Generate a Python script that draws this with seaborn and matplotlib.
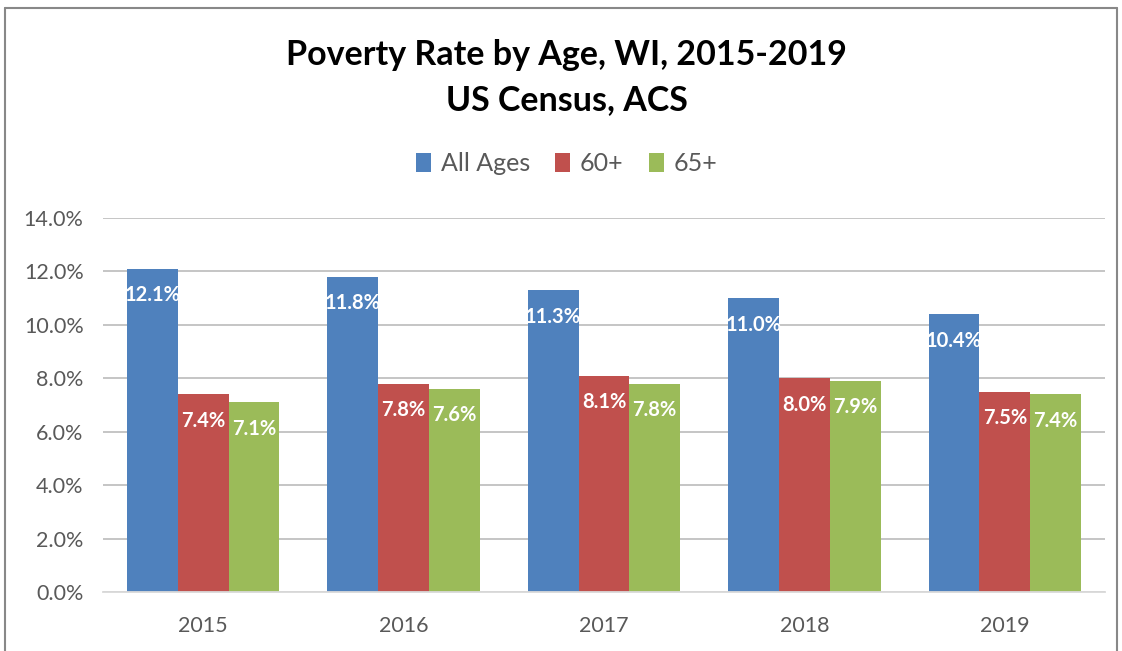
import matplotlib
matplotlib.use("Agg")
import matplotlib.pyplot as plt
from matplotlib.lines import Line2D
from matplotlib.ticker import FuncFormatter
import numpy as np
import pandas as pd
import seaborn as sns

# values (percent)
years = ["2015", "2016", "2017", "2018", "2019"]
groups = ["All Ages", "60+", "65+"]
all_ages = [12.1, 11.8, 11.3, 11.0, 10.4]
age_60 = [7.4, 7.8, 8.1, 8.0, 7.5]
age_65 = [7.1, 7.6, 7.8, 7.9, 7.4]
colors = ["#4F81BD", "#C0504D", "#9BBB59"]

df = pd.DataFrame({
    "year": years * 3,
    "group": [groups[0]] * 5 + [groups[1]] * 5 + [groups[2]] * 5,
    "rate": all_ages + age_60 + age_65,
})

sns.set_style("white")
plt.rcParams["font.family"] = ["Lato", "DejaVu Sans"]

fig = plt.figure(figsize=(11.22, 6.51), dpi=100)
ax = fig.add_axes([0.0918, 0.0906, 0.893, 0.5745])

sns.barplot(data=df, x="year", y="rate", hue="group", hue_order=groups,
            palette=colors, width=0.76, linewidth=0, saturation=1,
            errorbar=None, ax=ax)

ax.set_ylim(0, 14)
ax.set_xlim(-0.5, 4.5)
ax.set_yticks(np.arange(0, 14.1, 2))
ax.yaxis.set_major_formatter(FuncFormatter(lambda v, p: f"{v:.1f}%"))
ax.grid(axis="y", color="#C0C0C0", linewidth=1.3)
ax.set_axisbelow(True)
for s in ["top", "right", "left"]:
    ax.spines[s].set_visible(False)
ax.spines["bottom"].set_color("#D9D9D9")
ax.spines["bottom"].set_linewidth(1.3)
ax.tick_params(axis="both", length=0, labelsize=15.5, labelcolor="#595959")
ax.tick_params(axis="x", pad=17)
ax.tick_params(axis="y", pad=14)
ax.set_xlabel("")
ax.set_ylabel("")

# value labels inside the top of each bar
for cont in ax.containers:
    for p in cont:
        h = p.get_height()
        ax.annotate(f"{h:.1f}%", (p.get_x() + p.get_width() / 2, h),
                    xytext=(0, -19), textcoords="offset points",
                    ha="center", va="center", color="white",
                    fontsize=14.5, fontweight="bold")

handles, labels = ax.get_legend_handles_labels()
ax.legend_.remove()
fig.legend(handles, labels, loc="center", bbox_to_anchor=(0.505, 0.749),
           ncol=3, frameon=False, fontsize=18, handlelength=0.6,
           handleheight=0.8, handletextpad=0.4, columnspacing=1.0,
           labelcolor="#595959")

fig.text(0.505, 0.915, "Poverty Rate by Age, WI, 2015-2019", ha="center",
         va="center", fontsize=24.5, fontweight="bold", color="black")
fig.text(0.505, 0.846, "US Census, ACS", ha="center", va="center",
         fontsize=24.5, fontweight="bold", color="black")

# outer chart frame
fc = "#888888"
fig.add_artist(Line2D([0.0045, 0.9955], [0.9875, 0.9875], color=fc, lw=1.5))
fig.add_artist(Line2D([0.0045, 0.0045], [0.0, 0.9875], color=fc, lw=1.5))
fig.add_artist(Line2D([0.9955, 0.9955], [0.0, 0.9875], color=fc, lw=1.5))

fig.savefig("out.png", dpi=100)
